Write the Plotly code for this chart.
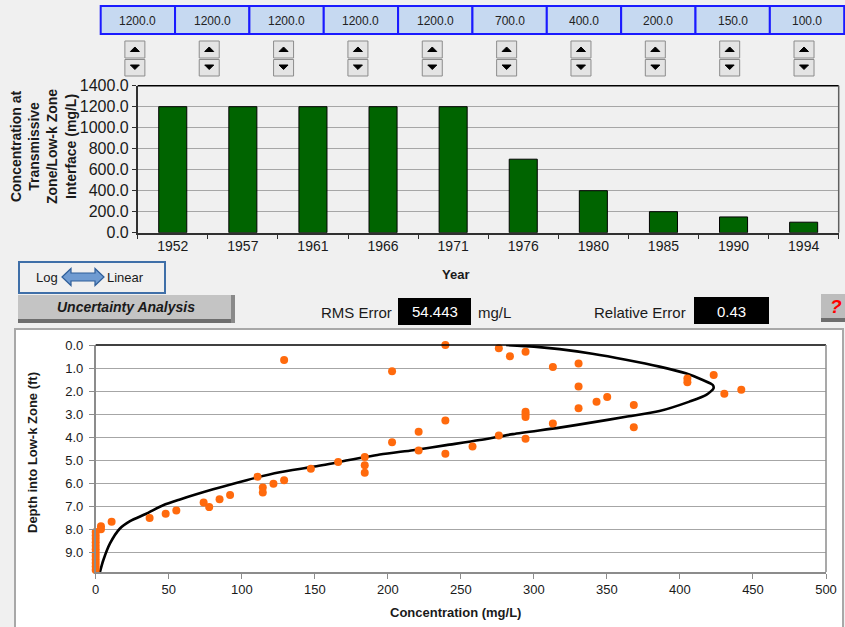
import plotly.graph_objects as go

# ---------------- data ----------------
years = ["1952", "1957", "1961", "1966", "1971", "1976", "1980", "1985", "1990", "1994"]
interface_conc = [1200.0, 1200.0, 1200.0, 1200.0, 1200.0, 700.0, 400.0, 200.0, 150.0, 100.0]

obs_conc = [239.4, 276.0, 294.3, 283.6, 129.0, 330.6, 313.0, 202.9, 423.1, 405.1,
            405.1, 330.6, 442.0, 430.4, 350.2, 342.9, 368.4, 330.6, 294.3, 294.3,
            294.3, 239.4, 313.0, 368.4, 221.1, 276.0, 294.3, 202.9, 258.0, 221.1,
            239.4, 184.2, 166.0, 184.2, 147.3, 184.2, 110.8, 129.0, 121.7, 114.4,
            114.4, 92.0, 84.8, 73.9, 77.7, 55.2, 47.9, 36.9, 10.9, 3.6,
            3.6, 0.0, 0.0, 0.0, 0.0, 0.0, 0.0, 0.0, 0.0, 0.0,
            0.0, 0.0, 0.0]
obs_depth = [0.00, 0.14, 0.29, 0.49, 0.65, 0.80, 0.96, 1.14, 1.30, 1.45,
             1.62, 1.80, 1.94, 2.12, 2.26, 2.46, 2.61, 2.75, 2.90, 3.01,
             3.13, 3.28, 3.41, 3.57, 3.77, 3.93, 4.07, 4.22, 4.41, 4.58,
             4.72, 4.87, 5.08, 5.22, 5.38, 5.55, 5.72, 5.87, 6.03, 6.19,
             6.41, 6.52, 6.70, 6.84, 7.04, 7.19, 7.33, 7.51, 7.68, 7.87,
             8.00, 8.12, 8.27, 8.42, 8.57, 8.72, 8.87, 9.02, 9.17, 9.32,
             9.47, 9.62, 9.77]

model_conc = [281.0, 300.0, 317.6, 340.0, 363.0, 386.0, 404.0, 415.6, 422.5, 423.0,
              418.0, 406.5, 386.0, 363.0, 340.0, 317.6, 285.6, 262.9, 240.0, 217.2,
              194.5, 148.8, 126.0, 103.3, 80.4, 57.7, 46.2, 34.9, 23.5, 16.6,
              9.8, 5.2, 2.9]
model_depth = [0.00, 0.07, 0.18, 0.38, 0.64, 0.94, 1.23, 1.52, 1.74, 1.88,
               2.17, 2.46, 2.87, 3.12, 3.36, 3.59, 3.87, 4.13, 4.35, 4.57,
               4.76, 5.29, 5.53, 5.87, 6.27, 6.71, 6.96, 7.32, 7.65, 7.97,
               8.62, 9.35, 9.86]

rms_error = "54.443"
relative_error = "0.43"

# ---------------- helpers (pixel -> paper) ----------------
W, H = 845, 627
def X(px):
    return px / W
def Y(py):
    return 1 - py / H

FONT = "Liberation Sans, Arial, sans-serif"

shapes = []
annos = []

def rect(x0, y0, x1, y1, fill=None, line=None, lw=1, layer="above"):
    d = dict(type="rect", xref="paper", yref="paper",
             x0=X(x0), x1=X(x1), y0=Y(y1), y1=Y(y0), layer=layer,
             fillcolor=fill if fill else "rgba(0,0,0,0)",
             line=dict(color=line if line else "rgba(0,0,0,0)", width=lw if line else 0))
    shapes.append(d)

def seg(x0, y0, x1, y1, color, lw=1, layer="above"):
    shapes.append(dict(type="line", xref="paper", yref="paper",
                       x0=X(x0), x1=X(x1), y0=Y(y0), y1=Y(y1), layer=layer,
                       line=dict(color=color, width=lw)))

def poly(pts, fill, line=None, lw=1):
    p = "M " + " L ".join(f"{X(a):.5f},{Y(b):.5f}" for a, b in pts) + " Z"
    shapes.append(dict(type="path", xref="paper", yref="paper", path=p,
                       fillcolor=fill, line=dict(color=line if line else fill, width=lw)))

def text(x, y, s, size=13, color="#1a1a1a", xanchor="center", family=FONT, angle=0):
    annos.append(dict(xref="paper", yref="paper", x=X(x), y=Y(y), text=s,
                      showarrow=False, xanchor=xanchor, yanchor="middle", textangle=angle,
                      font=dict(size=size, color=color, family=family)))

# ---------------- figure ----------------
fig = go.Figure()
fig.add_trace(go.Bar(x=years, y=interface_conc, xaxis="x", yaxis="y", width=0.4,
                     marker=dict(color="#006400", line=dict(color="#000000", width=1)),
                     showlegend=False))
fig.add_trace(go.Scatter(x=model_conc, y=model_depth, xaxis="x2", yaxis="y2", mode="lines",
                         line=dict(color="#000000", width=2.6, shape="spline", smoothing=0.7),
                         showlegend=False))
fig.add_trace(go.Scatter(x=obs_conc, y=obs_depth, xaxis="x2", yaxis="y2", mode="markers",
                         marker=dict(color="#FF6A0D", size=8), cliponaxis=False,
                         showlegend=False))

# white panel behind the profile chart
rect(15, 329, 843, 640, fill="#ffffff", line="#a8a8a8", lw=2, layer="below")

# input cells and spinners
cell_w = 74.35
for i, v in enumerate(interface_conc):
    x0 = 100.7 + cell_w * i
    rect(x0, 6, x0 + cell_w, 34, fill="#c6d9f1", line="#1a1aff", lw=2)
    text(x0 + cell_w / 2, 20.5, f"{v:.1f}", size=12, color="#222222")
    cx = x0 + cell_w / 2 - 3
    rect(cx - 10, 41, cx + 10, 58, fill="#e4e4e4", line="#8c8c8c", lw=1)
    rect(cx - 10, 59.5, cx + 10, 76, fill="#e4e4e4", line="#8c8c8c", lw=1)
    poly([(cx - 4.5, 51.5), (cx + 4.5, 51.5), (cx, 47)], "#000000")
    poly([(cx - 4.5, 65), (cx + 4.5, 65), (cx, 69.5)], "#000000")

# bar chart frame (top/right)
seg(137.7, 85.7, 838.7, 85.7, "#000000", 1.5)
seg(838.7, 85.7, 838.7, 232.7, "#606060", 1.5)

# bar chart titles
text(43, 147, "<b>Concentration at<br>Transmissive<br>Zone/Low-k Zone<br>Interface (mg/L)</b>",
     size=14, angle=-90)
text(455, 274, "<b>Year</b>", size=13)

# Log <-> Linear toggle
rect(19, 262, 165, 293, fill=None, line="#3f6fa8", lw=2)
text(34, 277.5, "Log", size=13, xanchor="left")
poly([(62, 277), (71, 268.5), (71, 273), (95, 273), (95, 268.5), (104, 277),
      (95, 285.5), (95, 281), (71, 281), (71, 285.5)], "#6f9bd1", line="#2f5f9a", lw=1.2)
text(105, 277.5, "Linear", size=13, xanchor="left")

# Uncertainty Analysis button
rect(18, 295, 234, 321, fill="#c4c4c4")
rect(18, 319, 235, 323, fill="#6e6e6e")
rect(231, 295, 235, 323, fill="#8a8a8a")
text(126, 307.5, "<b><i>Uncertainty Analysis</i></b>", size=14)

# error read-outs
text(394, 312.5, "RMS Error", size=15, xanchor="right")
rect(398, 298, 471, 325, fill="#000000")
text(434.5, 311.5, rms_error, size=15, color="#ffffff")
text(476, 312.5, "mg/L", size=15, xanchor="left")
text(688, 312.5, "Relative Error", size=15, xanchor="right")
rect(694, 297, 769, 324, fill="#000000")
text(731.5, 311.5, relative_error, size=15, color="#ffffff")

# help button
rect(821, 294, 845, 320, fill="#bdbdbd")
rect(821, 318, 845, 322, fill="#6e6e6e")
text(836, 307, "<b><i>?</i></b>", size=19, color="#ff0000")

# profile chart frame (top/right)
seg(95.7, 345, 826, 345, "#000000", 1.5)
seg(826, 345, 826, 572, "#8c8c8c", 1.5)

# profile chart titles
text(32, 453, "<b>Depth into Low-k Zone (ft)</b>", size=13, angle=-90)
text(455, 612, "<b>Concentration (mg/L)</b>", size=13)

fig.update_layout(
    width=W, height=H, autosize=False,
    margin=dict(l=0, r=0, t=0, b=0, pad=0, autoexpand=False),
    paper_bgcolor="#f0f0f0", plot_bgcolor="rgba(0,0,0,0)",
    font=dict(family=FONT, size=13, color="#1a1a1a"),
    showlegend=False,
    xaxis=dict(domain=[X(137.7), X(838.7)], anchor="y", type="category",
               showline=True, linecolor="#303030", linewidth=1.5,
               ticks="outside", tickson="boundaries", ticklen=5, tickcolor="#303030",
               showgrid=False, tickfont=dict(size=14)),
    yaxis=dict(domain=[Y(232.7), Y(85.7)], anchor="x", range=[0, 1400], dtick=200,
               tickformat=".1f", showline=True, linecolor="#303030", linewidth=1.5,
               ticks="outside", ticklen=4, tickcolor="#303030",
               gridcolor="#a6a6a6", gridwidth=1, zeroline=False, tickfont=dict(size=16)),
    xaxis2=dict(domain=[X(95.7), X(826)], anchor="y2", range=[0, 500], dtick=50,
                showline=True, linecolor="#8c8c8c", linewidth=1.5,
                ticks="outside", ticklen=5, tickcolor="#8c8c8c",
                showgrid=False, zeroline=False, tickfont=dict(size=13)),
    yaxis2=dict(domain=[Y(572), Y(345)], anchor="x2", range=[9.86, 0], tick0=0, dtick=1,
                tickformat=".1f", showline=True, linecolor="#8c8c8c", linewidth=1.5,
                ticks="outside", ticklen=5, tickcolor="#8c8c8c", ticklabelstandoff=3,
                gridcolor="#a6a6a6", gridwidth=1, zeroline=False, tickfont=dict(size=13)),
    shapes=shapes, annotations=annos,
)

fig.write_html("out.html", config={"displayModeBar": False},
               post_script="document.body.style.margin='0';document.body.style.overflow='hidden';")
